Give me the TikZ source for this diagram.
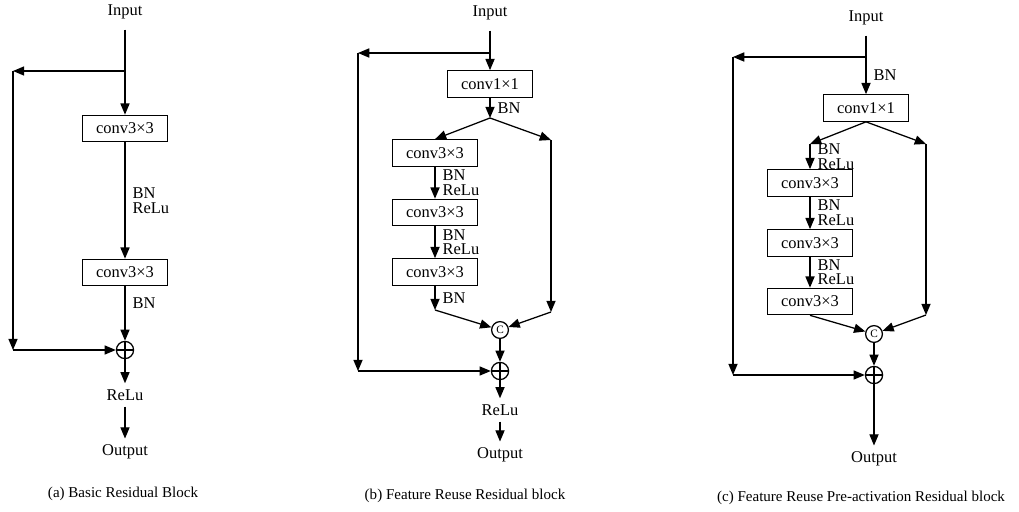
\documentclass[tikz,border=0pt]{standalone}
\usepackage{fontspec}
\setmainfont{Liberation Serif}
\usetikzlibrary{positioning,calc,arrows.meta}

\begin{document}
\begin{tikzpicture}[
    x=0.025cm, y=-0.025cm,
    font=\fontsize{11.7}{12}\selectfont, >={Triangle[length=8pt,width=6.5pt]}, line width=0.9pt,
    conv/.style={draw, minimum width=21.25mm, minimum height=6.6mm, inner sep=0pt},
    txt/.style={inner sep=4pt},
    lbl/.style={align=left, inner sep=0pt, anchor=west, xshift=5pt, font=\fontsize{11.7}{10.5}\selectfont},
    plus/.style={draw, circle, minimum size=4.3mm, inner sep=0pt,
      path picture={\draw (path picture bounding box.north) -- (path picture bounding box.south)
                          (path picture bounding box.west) -- (path picture bounding box.east);}},
    cat/.style={draw, circle, minimum size=4.2mm, inner sep=0pt, font=\fontsize{8}{8}\selectfont},
    captxt/.style={font=\fontsize{10.7}{12}\selectfont}
  ]
    \useasboundingbox (0,0) rectangle (1019,512);

    % --- (a) Basic Residual Block ---
    \node[txt]  (inA)  at (125,12)    {Input};
    \coordinate (brA)  at (125,71);
    \coordinate (skA)  at (13,71);
    \node[conv] (c1A)  at (125,128.5) {conv3×3};
    \node[conv] (c2A)  at (125,272.5) {conv3×3};
    \node[plus] (addA) at (125,350)   {};
    \coordinate (skA2) at (13,350);
    \node[txt]  (reA)  at (125,395)   {ReLu};
    \node[txt]  (outA) at (125,452)   {Output};
    \node[captxt] (capA) at (123,494) {(a) Basic Residual Block};

    \draw[shorten <=3pt] (inA) -- (brA);
    \draw[->] (brA) -- (c1A);
    \draw[->] (brA) -- (skA);
    \draw[->] (skA) -- (skA2);
    \draw[->] (skA2) -- (addA);
    \draw[->] (c1A) -- node[lbl]{BN\\ReLu} (c2A);
    \draw[->] (c2A) -- node[lbl,pos=0.3]{BN} (addA);
    \draw[->] (addA) -- (reA);
    \draw[->] (reA) -- (outA);

    % --- (b) Feature Reuse Residual block ---
    \node[txt]  (inB)  at (490,13)    {Input};
    \coordinate (brB)  at (490,53);
    \coordinate (skB)  at (358,53);
    \node[conv] (c0B)  at (490,84)    {conv1×1};
    \coordinate (spB)  at (490,118);
    \coordinate (rB)   at (551,140);
    \node[conv] (c1B)  at (435,153)   {conv3×3};
    \node[conv] (c2B)  at (435,212.5) {conv3×3};
    \node[conv] (c3B)  at (435,272)   {conv3×3};
    \coordinate (eB)   at (435,310);
    \coordinate (rB2)  at (551,312);
    \node[cat]  (catB) at (500,330)   {C};
    \node[plus] (addB) at (500,371)   {};
    \coordinate (skB2) at (358,371);
    \node[txt]  (reB)  at (500,410)   {ReLu};
    \node[txt]  (outB) at (500,455)   {Output};
    \node[captxt] (capB) at (465,496) {(b) Feature Reuse Residual block};

    \draw[shorten <=3pt] (inB) -- (brB);
    \draw[->] (brB) -- (c0B);
    \draw[->] (brB) -- (skB);
    \draw[->] (skB) -- (skB2);
    \draw[->] (skB2) -- (addB);
    \draw[->] (c0B) -- node[lbl]{BN} (spB);
    \draw[->] (spB) -- (c1B.north);
    \draw[->] (spB) -- (rB);
    \draw[->] (rB) -- (rB2);
    \draw[->] (rB2) -- (catB);
    \draw[->] (c1B) -- node[lbl]{BN\\ReLu} (c2B);
    \draw[->] (c2B) -- node[lbl]{BN\\ReLu} (c3B);
    \draw[->] (c3B) -- node[lbl]{BN} (eB);
    \draw[->] (eB) -- (catB);
    \draw[->] (catB) -- (addB);
    \draw[->] (addB) -- (reB);
    \draw[->] (reB) -- (outB);

    % --- (c) Feature Reuse Pre-activation Residual block ---
    \node[txt]  (inC)  at (866,18)    {Input};
    \coordinate (brC)  at (866,57);
    \coordinate (skC)  at (733,57);
    \node[conv] (c0C)  at (866,108)   {conv1×1};
    \coordinate (lC)   at (810,144);
    \coordinate (rC)   at (926,144);
    \node[conv] (c1C)  at (810,183)   {conv3×3};
    \node[conv] (c2C)  at (810,243)   {conv3×3};
    \node[conv] (c3C)  at (810,301.5) {conv3×3};
    \coordinate (rC2)  at (926,315);
    \node[cat]  (catC) at (874,334)   {C};
    \node[plus] (addC) at (874,375)   {};
    \coordinate (skC2) at (733,375);
    \node[txt]  (outC) at (874,459)   {Output};
    \node[captxt] (capC) at (861,498) {(c) Feature Reuse Pre-activation Residual block};

    \draw[shorten <=3pt] (inC) -- (brC);
    \draw[->] (brC) -- node[lbl]{BN} (c0C);
    \draw[->] (brC) -- (skC);
    \draw[->] (skC) -- (skC2);
    \draw[->] (skC2) -- (addC);
    \draw[->] (c0C.south) -- (lC);
    \draw[->] (c0C.south) -- (rC);
    \draw[->] (lC) -- node[lbl]{BN\\ReLu} (c1C);
    \draw[->] (c1C) -- node[lbl]{BN\\ReLu} (c2C);
    \draw[->] (c2C) -- node[lbl]{BN\\ReLu} (c3C);
    \draw[->] (c3C.south) -- (catC);
    \draw[->] (rC) -- (rC2);
    \draw[->] (rC2) -- (catC);
    \draw[->] (catC) -- (addC);
    \draw[->] (addC) -- (outC);
  \end{tikzpicture}
\end{document}
